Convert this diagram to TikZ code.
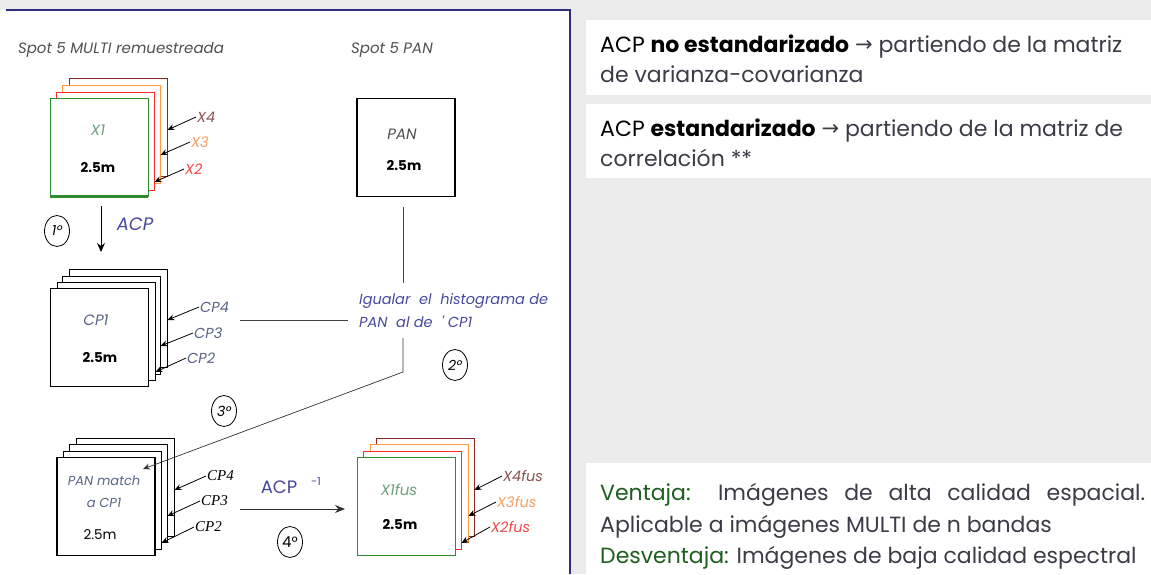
\documentclass[tikz,border=0pt]{standalone}
\usepackage{fontspec}
\setmainfont{Poppins}
\newfontfamily\serifit{Liberation Serif}
\newfontfamily\symf{DejaVu Sans}
\usetikzlibrary{arrows.meta,shapes.geometric}
\definecolor{bggray}{HTML}{EBEBEB}
\definecolor{navy}{HTML}{2E2E80}
\definecolor{sqgreen}{HTML}{2E8B2E}
\definecolor{sqred}{HTML}{FF2A2A}
\definecolor{sqorange}{HTML}{FF9A3C}
\definecolor{sqbrown}{HTML}{8B2A2A}
\definecolor{txgray}{HTML}{505050}
\definecolor{txgreen}{HTML}{6E9E7E}
\definecolor{txblue}{HTML}{5A6488}
\definecolor{acpblue}{HTML}{4848A0}
\definecolor{lbbrown}{HTML}{8B5050}
\definecolor{lborange}{HTML}{F5A060}
\definecolor{lbred}{HTML}{F04848}
\definecolor{vgreen}{HTML}{1E5E1E}
\definecolor{rtext}{HTML}{3C3C48}
\newcommand{\rarr}{{\symf\fontsize{21}{24}\selectfont\raisebox{1pt}{→}}}
\begin{document}
\begin{tikzpicture}[x=1pt,y=-1pt,
  sq/.style={draw,fill=white,minimum size=98pt,inner sep=0pt,line width=0.8pt},
  lbl/.style={font=\fontsize{14.5}{16}\selectfont\itshape,inner sep=1pt,anchor=west},
  bold25/.style={font=\fontsize{13.5}{15}\selectfont\bfseries},
  arr/.style={-{Stealth[length=7pt,width=6pt]},line width=0.8pt},
  circ/.style={draw,ellipse,inner sep=0pt,minimum width=25pt,minimum height=31pt,line width=0.8pt,font=\fontsize{14}{16}\selectfont\itshape},
  rt/.style={anchor=base west,inner sep=0pt,text=rtext}]
\useasboundingbox (0,0) rectangle (1151,574);
\fill[bggray] (0,0) rectangle (1151,574);
\fill[white] (0,10) rectangle (570,574);
\draw[navy,line width=1.5pt] (6,10) -- (570,10) -- (570,574);
% right boxes
\fill[white] (586,20) rectangle (1151,95);
\fill[white] (586,104) rectangle (1151,178);
\fill[white] (586,463) rectangle (1151,574);

% titles
\node[font=\fontsize{15}{17}\selectfont\itshape,text=txgray] (t1) at (121,50) {Spot 5 MULTI remuestreada};
\node[font=\fontsize{15}{17}\selectfont\itshape,text=txgray] (t2) at (392,50) {Spot 5 PAN};

% X stack
\node[sq,draw=sqbrown] (x4) at (118,127) {};
\node[sq,draw=sqorange] (x3) at (111,134) {};
\node[sq,draw=sqred] (x2) at (105,141) {};
\node[sq,draw=sqgreen] (x1) at (99,147) {};
\draw[sqgreen,line width=2.5pt] (x1.south west) -- (x1.south east);
\node[font=\fontsize{15}{17}\selectfont\itshape,text=txgreen] (x1t) at (98,130) {X1};
\node[bold25] (x1m) at (98,168) {2.5m};
\node[lbl,text=lbbrown] (l4) at (196,117) {X4};
\node[lbl,text=lborange] (l3) at (190,142) {X3};
\node[lbl,text=lbred] (l2) at (184,169) {X2};
\draw[arr] (l4.west) -- ([yshift=-3pt]x4.east);
\draw[arr] (l3.west) -- ([yshift=-21pt]x3.east);
\draw[arr] (l2.west) -- ([yshift=-41pt]x2.east);

% ACP arrow
\coordinate (a1) at (101,206);
\coordinate (a2) at (101,252);
\draw[-{Stealth[length=9pt,width=8pt]},line width=1pt] (a1) -- (a2);
\node[font=\fontsize{18}{20}\selectfont\itshape,text=acpblue] (acp1) at (135,224) {ACP};
\node[circ] (c1) at (57,231) {1°};

% CP stack
\node[sq] (cp4) at (118,318) {};
\node[sq] (cp3) at (111,325) {};
\node[sq] (cp2) at (106,331) {};
\node[sq] (cp1) at (99,337) {};
\node[font=\fontsize{15}{17}\selectfont\itshape,text=txblue] (cp1t) at (96,320) {CP1};
\node[bold25] (cp1m) at (100,358) {2.5m};
\node[lbl,text=txblue] (k4) at (199,307) {CP4};
\node[lbl,text=txblue] (k3) at (193,333) {CP3};
\node[lbl,text=txblue] (k2) at (186,358) {CP2};
\draw[arr] (k4.west) -- ([yshift=-2pt]cp4.east);
\draw[arr] (k3.west) -- ([yshift=-21pt]cp3.east);
\draw[arr] (k2.west) -- ([yshift=-41pt]cp2.east);

% PAN
\node[sq,line width=1.8pt] (pan) at (406,147.5) {};
\node[font=\fontsize{15}{17}\selectfont\itshape,text=txgray] (pant) at (402,134) {PAN};
\node[bold25] (panm) at (404,166) {2.5m};

% igualar text
\node[font=\fontsize{14.5}{23}\selectfont\itshape,text=acpblue,align=left,anchor=west,inner sep=0pt] (ig) at (359,311) {Igualar\ \ el\ \ histograma de\\PAN\ \ al de\ \ \textquotesingle\ CP1};
\coordinate (v1) at (403,207);
\coordinate (v2) at (403,283);
\coordinate (h1) at (240,320);
\coordinate (h2) at (348,320);
\coordinate (v3) at (403,338);
\coordinate (v4) at (403,372);
\draw[line width=0.7pt,black!75] (v1) -- (v2);
\draw[line width=0.7pt,black!75] (h1) -- (h2);
\node[circ] (c2) at (455,365) {2°};
\node[circ] (c3) at (224,411) {3°};

% PAN match stack
\node[sq] (m4) at (125,487) {};
\node[sq] (m3) at (118,493) {};
\node[sq] (m2) at (112,500) {};
\node[sq,line width=1.8pt] (m1) at (106,506.5) {};
\node[font=\fontsize{13}{22}\selectfont\itshape,text=txblue,align=center] (m1t) at (104,492) {PAN match\\a CP1};
\node[font=\fontsize{13.5}{15}\selectfont] (m1m) at (100,535) {2.5m};
\coordinate (tip) at (143,469);
\draw[-{Stealth[length=7pt,width=6pt]},line width=0.7pt,black!80] (v3) -- (v4) -- (tip);
\node[lbl,font=\fontsize{15}{17}\selectfont\serifit\itshape] (n4) at (206,476) {CP4};
\node[lbl,font=\fontsize{15}{17}\selectfont\serifit\itshape] (n3) at (200,501) {CP3};
\node[lbl,font=\fontsize{15}{17}\selectfont\serifit\itshape] (n2) at (194,527) {CP2};
\draw[arr] (n4.west) -- ([yshift=-3pt]m4.east);
\draw[arr] (n3.west) -- ([yshift=-23pt]m3.east);
\draw[arr] (n2.west) -- ([yshift=-43pt]m2.east);

% ACP -1 arrow
\coordinate (b1) at (240,509);
\coordinate (b2) at (345,509);
\draw[-{Stealth[length=10pt,width=8pt]},line width=1pt,black!80] (b1) -- (b2);
\node[font=\fontsize{18}{20}\selectfont,text=acpblue] (acp2) at (279,487) {ACP};
\node[font=\fontsize{11}{13}\selectfont,text=acpblue] (acp2s) at (316,482) {-1};
\node[circ,font=\fontsize{15}{17}\selectfont] (c4) at (290,542) {4°};

% X1fus stack
\node[sq,draw=sqbrown] (f4) at (425,487) {};
\node[sq,draw=sqorange] (f3) at (419,493) {};
\node[sq,draw=sqred] (f2) at (412,500) {};
\node[sq,draw=sqgreen] (f1) at (406,506) {};
\node[font=\fontsize{15}{17}\selectfont\itshape,text=txgreen] (f1t) at (399,490) {X1fus};
\node[bold25] (f1m) at (400,525) {2.5m};
\node[lbl,text=lbbrown] (g4) at (502,476) {X4fus};
\node[lbl,text=lborange] (g3) at (496,502) {X3fus};
\node[lbl,text=lbred] (g2) at (490,527) {X2fus};
\draw[arr] (g4.west) -- ([yshift=-3pt]f4.east);
\draw[arr] (g3.west) -- ([yshift=-23pt]f3.east);
\draw[arr] (g2.west) -- ([yshift=-43pt]f2.east);

% right texts
\node[rt,font=\fontsize{22}{24}\selectfont] (r1) at (600,52) {\textcolor{black}{ACP \textbf{no estandarizado}} \rarr{} partiendo de la matriz};
\node[rt,font=\fontsize{22}{24}\selectfont] (r2) at (600,82) {de varianza-covarianza};
\node[rt,font=\fontsize{22}{24}\selectfont] (r3) at (600,136) {\textcolor{black}{ACP \textbf{estandarizado}} \rarr{} partiendo de la matriz de};
\node[rt,font=\fontsize{22}{24}\selectfont] (r4) at (600,166) {correlación **};
\node[rt,font=\fontsize{22}{26}\selectfont] (r5) at (600,500) {\makebox[545pt][s]{\textcolor{vgreen}{Ventaja:} Imágenes de alta calidad espacial.}};
\node[rt,font=\fontsize{22}{26}\selectfont] (r6) at (600,532) {Aplicable a imágenes MULTI de n bandas};
\node[rt,font=\fontsize{22}{26}\selectfont] (r7) at (600,563) {\textcolor{vgreen}{Desventaja:} Imágenes de baja calidad espectral};
\end{tikzpicture}
\end{document}
